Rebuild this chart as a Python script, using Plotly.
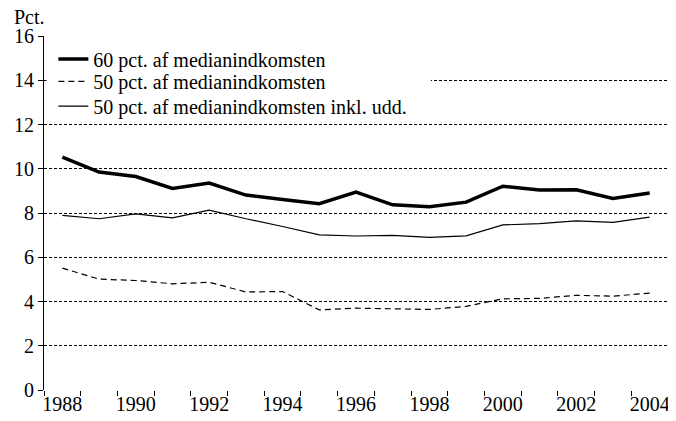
import plotly.graph_objects as go

# årstal og serier
years = list(range(1988, 2005))
pct60 = [10.53, 9.85, 9.65, 9.11, 9.35, 8.81, 8.61, 8.42, 8.95, 8.37, 8.28,
         8.49, 9.21, 9.04, 9.05, 8.66, 8.90]
pct50 = [5.51, 5.01, 4.95, 4.80, 4.87, 4.43, 4.45, 3.62, 3.70, 3.68, 3.64,
         3.78, 4.12, 4.14, 4.28, 4.24, 4.38]
pct50_udd = [7.89, 7.74, 7.96, 7.78, 8.13, 7.74, 7.39, 7.01, 6.96, 6.99, 6.90,
             6.97, 7.46, 7.52, 7.64, 7.58, 7.81]

names = ["60 pct. af medianindkomsten",
         "50 pct. af medianindkomsten",
         "50 pct. af medianindkomsten inkl. udd."]
x_labels = [str(y) for y in range(1988, 2005, 2)]
y_ticks = list(range(0, 17, 2))

font = "Liberation Serif, DejaVu Serif, serif"
fsize = 20

fig = go.Figure()
fig.add_trace(go.Scatter(x=years, y=pct60, name=names[0], mode="lines",
                         legend="legend",
                         line=dict(color="black", width=3.5)))
fig.add_trace(go.Scatter(x=years, y=pct50, name=names[1], mode="lines",
                         legend="legend2",
                         line=dict(color="black", width=1.2, dash="6px,4px")))
fig.add_trace(go.Scatter(x=years, y=pct50_udd, name=names[2], mode="lines",
                         legend="legend3",
                         line=dict(color="black", width=1.2)))


# én legend pr. række, så afstanden mellem rækkerne kan styres
def leg(ypos):
    return dict(x=0.015, y=ypos, xanchor="left", yanchor="middle",
                bgcolor="rgba(0,0,0,0)", borderwidth=0,
                font=dict(family=font, size=fsize, color="black"))


# siden har 8px body-margin, så figuren gøres tilsvarende mindre
fig.update_layout(
    width=668, height=413,
    margin=dict(l=36, r=8, t=28, b=31),
    paper_bgcolor="white",
    plot_bgcolor="white",
    font=dict(family=font, size=fsize, color="black"),
    showlegend=True,
    legend=leg(0.935),
    legend2=leg(0.872),
    legend3=leg(0.802),
    xaxis=dict(
        range=[1987.5, 2004.5],
        tickmode="array",
        tickvals=[int(v) for v in x_labels],
        ticktext=x_labels,
        ticks="",
        showgrid=False,
        zeroline=False,
        showline=False,
        automargin=False,
        tickfont=dict(family=font, size=fsize, color="black"),
        minor=dict(tickmode="linear", tick0=1987.5, dtick=1,
                   ticks="outside", ticklen=5, tickcolor="black",
                   showgrid=False),
    ),
    yaxis=dict(
        range=[0, 16],
        tickvals=y_ticks,
        ticks="outside",
        ticklen=5,
        tickcolor="black",
        showline=True,
        linecolor="black",
        linewidth=1,
        showgrid=True,
        gridcolor="black",
        gridwidth=1,
        griddash="3px,2px",
        zeroline=False,
        automargin=False,
        tickfont=dict(family=font, size=fsize, color="black"),
    ),
    # hvid baggrund bag legenden (skjuler gitterlinjen ved 14)
    shapes=[dict(type="rect", xref="paper", yref="paper",
                 x0=0.004, x1=0.62, y0=0.775, y1=0.975,
                 fillcolor="white", line=dict(width=0), layer="above")],
    annotations=[dict(text="Pct.", xref="paper", yref="paper",
                      x=-0.051, y=1.0, xanchor="left", yanchor="bottom",
                      yshift=6, showarrow=False,
                      font=dict(family=font, size=fsize, color="black"))],
)

fig.write_html("out.html")
